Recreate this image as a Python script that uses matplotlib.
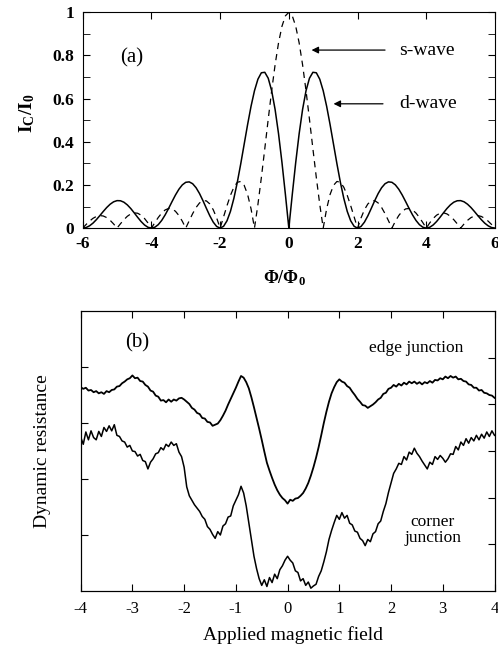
import numpy as np
import matplotlib.pyplot as plt

plt.rcParams['font.family'] = ['Liberation Serif', 'DejaVu Serif']
plt.rcParams['mathtext.fontset'] = 'custom'
plt.rcParams['mathtext.rm'] = 'Liberation Serif'
plt.rcParams['mathtext.bf'] = 'Liberation Serif:bold'

# ---- panel (a): critical current vs flux (positive half, mirrored) ----
phi_half = [0.0, 0.1, 0.2, 0.3, 0.4, 0.5, 0.6, 0.7, 0.8, 0.9,
            1.0, 1.1, 1.2, 1.3, 1.4, 1.5, 1.6, 1.7, 1.8, 1.9,
            2.0, 2.1, 2.2, 2.3, 2.4, 2.5, 2.6, 2.7, 2.8, 2.9,
            3.0, 3.1, 3.2, 3.3, 3.4, 3.5, 3.6, 3.7, 3.8, 3.9,
            4.0, 4.1, 4.2, 4.3, 4.4, 4.5, 4.6, 4.7, 4.8, 4.9,
            5.0, 5.1, 5.2, 5.3, 5.4, 5.5, 5.6, 5.7, 5.8, 5.9, 6.0]
s_wave_half = [1.0, 0.9836, 0.9355, 0.8584, 0.7568, 0.6366, 0.5046, 0.3679, 0.2339, 0.1093,
               0.0, 0.0894, 0.1559, 0.1981, 0.2162, 0.2122, 0.1892, 0.1515, 0.1039, 0.0518,
               0.0, 0.0468, 0.0850, 0.1120, 0.1261, 0.1273, 0.1164, 0.0954, 0.0668, 0.0339,
               0.0, 0.0317, 0.0585, 0.0780, 0.0890, 0.0909, 0.0841, 0.0696, 0.0492, 0.0252,
               0.0, 0.0240, 0.0445, 0.0599, 0.0688, 0.0707, 0.0658, 0.0548, 0.0390, 0.0201,
               0.0, 0.0193, 0.0360, 0.0486, 0.0561, 0.0579, 0.0541, 0.0452, 0.0323, 0.0167, 0.0]
d_wave_half = [0.0, 0.1558, 0.3040, 0.4374, 0.5499, 0.6366, 0.6945, 0.7220, 0.7198, 0.6900,
               0.6366, 0.5646, 0.4799, 0.3888, 0.2976, 0.2122, 0.1375, 0.0772, 0.0338, 0.0082,
               0.0, 0.0074, 0.0276, 0.0570, 0.0916, 0.1273, 0.1603, 0.1872, 0.2057, 0.2142,
               0.2122, 0.2003, 0.1799, 0.1532, 0.1226, 0.0909, 0.0611, 0.0355, 0.0160, 0.0040,
               0.0, 0.0038, 0.0145, 0.0305, 0.0500, 0.0707, 0.0906, 0.1075, 0.1200, 0.1267,
               0.1273, 0.1218, 0.1107, 0.0954, 0.0772, 0.0579, 0.0393, 0.0230, 0.0105, 0.0026, 0.0]

# ---- panel (b): dynamic resistance vs applied field, read every 0.05 from -4 to 4 ----
edge = [3.64, 3.61, 3.63, 3.58, 3.59, 3.55, 3.57, 3.53, 3.55, 3.52,
        3.57, 3.55, 3.59, 3.60, 3.65, 3.66, 3.71, 3.74, 3.78, 3.80,
        3.85, 3.80, 3.81, 3.75, 3.74, 3.68, 3.65, 3.58, 3.56, 3.49,
        3.47, 3.40, 3.41, 3.37, 3.42, 3.38, 3.42, 3.40, 3.44, 3.45,
        3.42, 3.38, 3.34, 3.27, 3.24, 3.18, 3.16, 3.09, 3.08, 3.02,
        3.01, 2.95, 2.97, 2.99, 3.05, 3.13, 3.22, 3.33, 3.43, 3.53,
        3.63, 3.74, 3.84, 3.81, 3.73, 3.62, 3.46, 3.28, 3.09, 2.90,
        2.70, 2.49, 2.29, 2.15, 2.02, 1.90, 1.80, 1.72, 1.66, 1.62,
        1.56, 1.63, 1.61, 1.65, 1.66, 1.70, 1.75, 1.83, 1.93, 2.06,
        2.21, 2.38, 2.57, 2.78, 3.00, 3.20, 3.38, 3.53, 3.64, 3.73,
        3.78, 3.74, 3.72, 3.66, 3.63, 3.56, 3.50, 3.43, 3.38, 3.32,
        3.31, 3.27, 3.30, 3.33, 3.37, 3.42, 3.45, 3.52, 3.54, 3.61,
        3.63, 3.68, 3.65, 3.70, 3.67, 3.72, 3.69, 3.74, 3.71, 3.74,
        3.70, 3.73, 3.69, 3.73, 3.71, 3.75, 3.72, 3.77, 3.76, 3.80,
        3.78, 3.83, 3.80, 3.84, 3.81, 3.83, 3.78, 3.79, 3.75, 3.74,
        3.69, 3.68, 3.63, 3.63, 3.58, 3.59, 3.54, 3.53, 3.50, 3.49,
        3.45]
corner = [2.75, 2.62, 2.84, 2.70, 2.86, 2.74, 2.70, 2.85, 2.76, 2.92,
          2.85, 2.95, 2.86, 2.97, 2.78, 2.76, 2.68, 2.66, 2.57, 2.60,
          2.50, 2.49, 2.41, 2.44, 2.33, 2.31, 2.18, 2.30, 2.36, 2.45,
          2.47, 2.56, 2.52, 2.62, 2.58, 2.66, 2.60, 2.63, 2.48, 2.40,
          2.21, 1.86, 1.70, 1.62, 1.54, 1.48, 1.42, 1.33, 1.28, 1.15,
          1.10, 1.01, 0.94, 1.06, 1.00, 1.16, 1.20, 1.32, 1.34, 1.52,
          1.62, 1.72, 1.87, 1.75, 1.52, 1.22, 0.92, 0.62, 0.40, 0.22,
          0.10, 0.20, 0.08, 0.24, 0.15, 0.30, 0.22, 0.38, 0.45, 0.55,
          0.62, 0.55, 0.50, 0.36, 0.33, 0.18, 0.22, 0.10, 0.16, 0.05,
          0.09, 0.12, 0.26, 0.36, 0.52, 0.70, 0.92, 1.08, 1.22, 1.35,
          1.28, 1.40, 1.30, 1.35, 1.21, 1.18, 1.07, 1.05, 0.94, 0.90,
          0.81, 0.92, 0.88, 1.02, 1.06, 1.20, 1.25, 1.42, 1.56, 1.76,
          1.93, 2.10, 2.18, 2.28, 2.26, 2.40, 2.34, 2.48, 2.44, 2.55,
          2.46, 2.40, 2.32, 2.25, 2.18, 2.30, 2.26, 2.40, 2.35, 2.42,
          2.37, 2.30, 2.36, 2.45, 2.44, 2.58, 2.52, 2.66, 2.60, 2.72,
          2.64, 2.74, 2.68, 2.78, 2.70, 2.80, 2.73, 2.84, 2.76, 2.86,
          2.78]
field = np.round(np.linspace(-4, 4, len(edge)), 2)

phi = np.concatenate([-np.array(phi_half[:0:-1]), phi_half])
s_wave = np.concatenate([s_wave_half[:0:-1], s_wave_half])
d_wave = np.concatenate([d_wave_half[:0:-1], d_wave_half])

fig = plt.figure(figsize=(4.98, 6.48), dpi=100)

# panel (a)
ax1 = fig.add_axes([0.166, 0.648, 0.828, 0.333])
ax1.plot(phi, d_wave, color='black', lw=1.1)
ax1.plot(phi, s_wave, color='black', lw=0.9, dashes=(5, 4))
ax1.set_xlim(-6, 6)
ax1.set_ylim(0, 1)
ax1.set_xticks([-6, -4, -2, 0, 2, 4, 6])
ax1.set_xticklabels(['-6', '-4', '-2', '0', '2', '4', '6'])
ax1.set_yticks([0, 0.2, 0.4, 0.6, 0.8, 1])
ax1.set_yticklabels(['0', '0.2', '0.4', '0.6', '0.8', '1'])
ax1.set_yticks(np.arange(0.1, 1.0, 0.2), minor=True)
ax1.tick_params(which='both', direction='in', top=True, right=True,
                labelsize=12.5, pad=6, length=5)
for lab in ax1.get_xticklabels() + ax1.get_yticklabels():
    lab.set_fontweight('bold')
ax1.set_xlabel(r'$\mathbf{\Phi/\Phi_0}$', fontsize=13)
ax1.xaxis.set_label_coords(0.49, -0.23)
ax1.xaxis.label.set_va('center')
ax1.set_ylabel(r'$\mathbf{I_C/I_0}$', fontsize=14)
ax1.yaxis.set_label_coords(-0.135, 0.53)
ax1.yaxis.label.set_va('center')
ax1.text(-4.58, 0.79, '(a)', fontsize=15, ha='center', va='center')
ax1.annotate('', xy=(0.58, 0.825), xytext=(2.88, 0.825),
             arrowprops=dict(arrowstyle='-|>', color='black', lw=0.9,
                             mutation_scale=10))
ax1.text(3.2, 0.825, 's-wave', fontsize=14, ha='left', va='center')
ax1.annotate('', xy=(1.22, 0.576), xytext=(2.82, 0.576),
             arrowprops=dict(arrowstyle='-|>', color='black', lw=0.9,
                             mutation_scale=10))
ax1.text(3.2, 0.576, 'd-wave', fontsize=14, ha='left', va='center')

# panel (b)
ax2 = fig.add_axes([0.162, 0.088, 0.831, 0.432])
ax2.plot(field, edge, color='black', lw=1.3)
ax2.plot(field, corner, color='black', lw=1.1)
ax2.set_xlim(-4, 4)
ax2.set_ylim(0, 5)
ax2.set_xticks(range(-4, 5))
ax2.set_xticklabels(['-4', '-3', '-2', '-1', '0', '1', '2', '3', '4'])
ax2.set_yticks([1, 2, 3, 4])
ax2.set_yticklabels([])
ax2.tick_params(direction='in', top=True, length=5, labelsize=12, pad=7)
ax2r = ax2.twinx()
ax2r.set_ylim(0, 6)
ax2r.set_yticks([1, 2, 3, 4, 5])
ax2r.set_yticklabels([])
ax2r.tick_params(direction='in', length=5)
ax2.set_xlabel('Applied magnetic field', fontsize=14)
ax2.xaxis.set_label_coords(0.513, -0.157)
ax2.xaxis.label.set_va('center')
ax2.set_ylabel('Dynamic resistance', fontsize=14)
ax2.yaxis.set_label_coords(-0.093, 0.5)
ax2.yaxis.label.set_va('center')
ax2.text(-2.91, 4.43, '(b)', fontsize=15, ha='center', va='center')
ax2.text(2.48, 4.34, 'edge junction', fontsize=12.5, ha='center', va='center')
ax2.text(2.81, 1.09, 'corner\njunction', fontsize=12.5, ha='center', va='center',
         linespacing=0.95)

fig.savefig('out.png', dpi=100)
